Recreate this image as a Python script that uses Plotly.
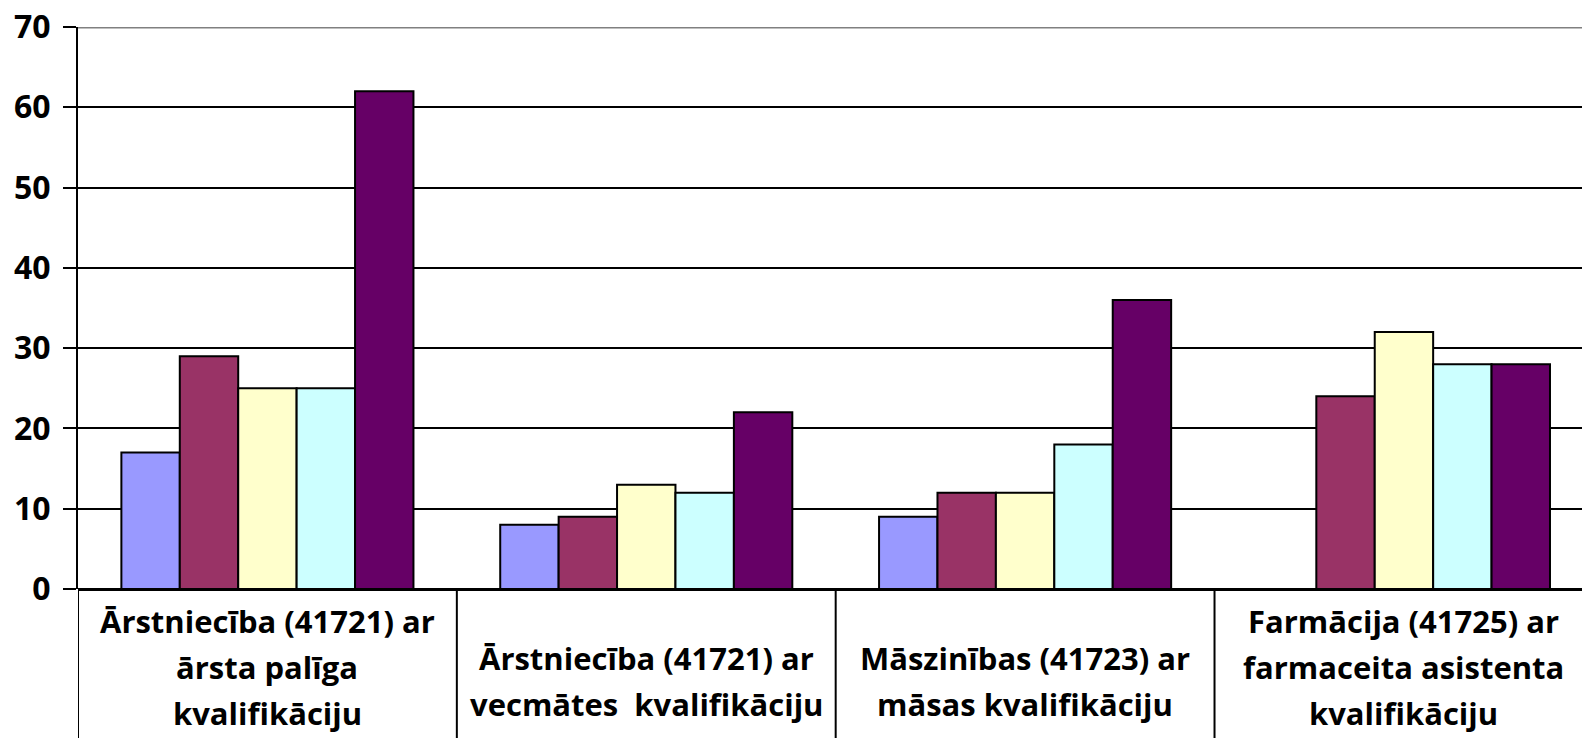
import plotly.graph_objects as go

# Categories (x axis) and the five series values
categories = [
    "Ārstniecība (41721) ar<br>ārsta palīga<br>kvalifikāciju",
    "Ārstniecība (41721) ar<br>vecmātes  kvalifikāciju",
    "Māszinības (41723) ar<br>māsas kvalifikāciju",
    "Farmācija (41725) ar<br>farmaceita asistenta<br>kvalifikāciju",
]
series_names = ["1", "2", "3", "4", "5"]
series_values = [
    [17, 8, 9, None],
    [29, 9, 12, 24],
    [25, 13, 12, 32],
    [25, 12, 18, 28],
    [62, 22, 36, 28],
]
colors = ["#9999FF", "#993366", "#FFFFCC", "#CCFFFF", "#660066"]
y_ticks = [0, 10, 20, 30, 40, 50, 60, 70]

font_family = "Open Sans, Liberation Sans, sans-serif"

fig = go.Figure()

xpos = list(range(len(categories)))
for name, vals, col in zip(series_names, series_values, colors):
    fig.add_trace(go.Bar(
        x=xpos, y=vals, name=name,
        marker=dict(color=col, line=dict(color="black", width=2)),
        showlegend=False,
    ))

# category labels under the axis, one annotation per line
line_step = 46
for i, label in enumerate(categories):
    lines = label.split("<br>")
    mid = (len(lines) - 1) / 2
    centre = 78 + (3 - len(lines)) * 14   # px below the axis
    for j, txt in enumerate(lines):
        fig.add_annotation(
            x=i, y=0, xref="x", yref="paper", text=txt,
            showarrow=False, yanchor="middle", xanchor="center",
            yshift=-centre + (mid - j) * line_step,
            font=dict(family=font_family, size=31, color="black", weight="bold"),
        )

# vertical divider lines between category cells
for b in [-0.5, 0.5, 1.5, 2.5]:
    fig.add_shape(type="line", xref="x", yref="paper",
                  x0=b, x1=b, y0=0, y1=-0.3,
                  line=dict(color="black", width=2))

# grey top gridline at 70
fig.add_shape(type="line", xref="paper", yref="y", x0=0, x1=1, y0=70, y1=70,
              line=dict(color="#808080", width=3))

fig.update_layout(
    width=1582, height=738,
    margin=dict(l=78, r=0, t=27, b=149),
    paper_bgcolor="white", plot_bgcolor="white",
    barmode="group", bargap=0.229, bargroupgap=0,
    font=dict(family=font_family, color="black"),
    # the original chart runs slightly past the right edge of the picture
    xaxis=dict(range=[-0.5, 3.47], showticklabels=False, showgrid=False,
               zeroline=False, showline=False, ticks="", automargin=False),
    yaxis=dict(range=[0, 70], tickvals=y_ticks, automargin=False,
               showgrid=True, gridcolor="black", gridwidth=2,
               zeroline=True, zerolinecolor="black", zerolinewidth=3,
               showline=True, linecolor="black", linewidth=2,
               ticks="outside", ticklen=13, tickcolor="black", tickwidth=2,
               ticklabelstandoff=6,
               tickfont=dict(family=font_family, size=32, color="black", weight="bold")),
)

# drop the default page margin so the figure fills the window
fig.write_html("out.html", config={"displayModeBar": False},
               post_script="document.body.style.margin='0';")
